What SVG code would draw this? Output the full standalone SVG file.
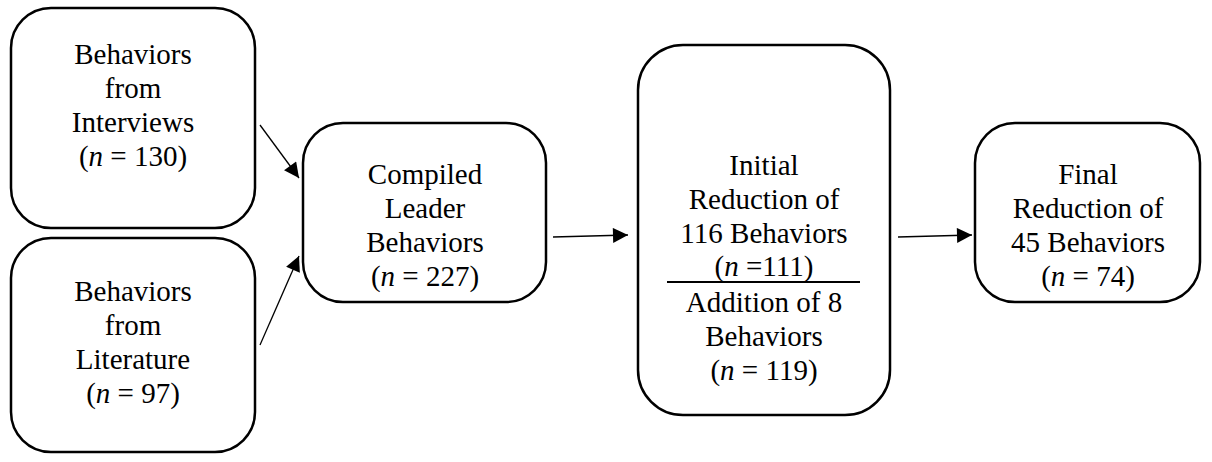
<svg xmlns="http://www.w3.org/2000/svg" width="1212" height="462" viewBox="0 0 1212 462">
<style>
.box{fill:#fff;stroke:#000;stroke-width:2.5}
.t{font-size:29px;fill:#000;text-anchor:middle}
.c{stroke:#000;stroke-width:1.3;fill:none}
</style>
<defs>
<marker id="ah" viewBox="0 0 10 10" refX="10" refY="5" markerWidth="16" markerHeight="15" markerUnits="userSpaceOnUse" orient="auto"><path d="M0,0 L10,5 L0,10 z" fill="#000"/></marker>
</defs>
<rect width="1212" height="462" fill="#fff"/>
<g font-family="'Liberation Serif', 'Times New Roman', Tinos, serif">
<g id="n1"><rect class="box" x="11" y="8" width="244" height="220" rx="40"/>
<text class="t"><tspan x="133" y="64">Behaviors</tspan><tspan x="133" y="98">from</tspan><tspan x="133" y="132">Interviews</tspan><tspan x="133" y="166">(<tspan font-style="italic">n</tspan> = 130)</tspan></text></g>
<g id="n2"><rect class="box" x="11" y="238" width="244" height="214" rx="40"/>
<text class="t"><tspan x="133" y="301">Behaviors</tspan><tspan x="133" y="335">from</tspan><tspan x="133" y="369">Literature</tspan><tspan x="133" y="403">(<tspan font-style="italic">n</tspan> = 97)</tspan></text></g>
<g id="n3"><rect class="box" x="303" y="123" width="243" height="179" rx="40"/>
<text class="t"><tspan x="425" y="184">Compiled</tspan><tspan x="425" y="218">Leader</tspan><tspan x="425" y="252">Behaviors</tspan><tspan x="425" y="286">(<tspan font-style="italic">n</tspan> = 227)</tspan></text></g>
<g id="n4"><rect class="box" x="638" y="45" width="252" height="370" rx="45"/>
<text class="t"><tspan x="764" y="175">Initial</tspan><tspan x="764" y="209">Reduction of</tspan><tspan x="764" y="243">116 Behaviors</tspan><tspan x="764" y="276">(<tspan font-style="italic">n</tspan> =111)</tspan></text>
<line x1="667" y1="282" x2="860" y2="282" stroke="#000" stroke-width="2"/>
<text class="t"><tspan x="764" y="312">Addition of 8</tspan><tspan x="764" y="346">Behaviors</tspan><tspan x="764" y="380">(<tspan font-style="italic">n</tspan> = 119)</tspan></text></g>
<g id="n5"><rect class="box" x="975" y="123" width="225" height="179" rx="40"/>
<text class="t"><tspan x="1088" y="184">Final</tspan><tspan x="1088" y="218">Reduction of</tspan><tspan x="1088" y="252">45 Behaviors</tspan><tspan x="1088" y="286">(<tspan font-style="italic">n</tspan> = 74)</tspan></text></g>
</g>
<g id="connectors">
<line class="c" x1="260" y1="125" x2="299" y2="178" marker-end="url(#ah)"/>
<line class="c" x1="260" y1="345" x2="299" y2="256" marker-end="url(#ah)"/>
<line class="c" x1="553" y1="237" x2="628" y2="235" marker-end="url(#ah)"/>
<line class="c" x1="898" y1="237" x2="972" y2="235" marker-end="url(#ah)"/>
</g>
</svg>
